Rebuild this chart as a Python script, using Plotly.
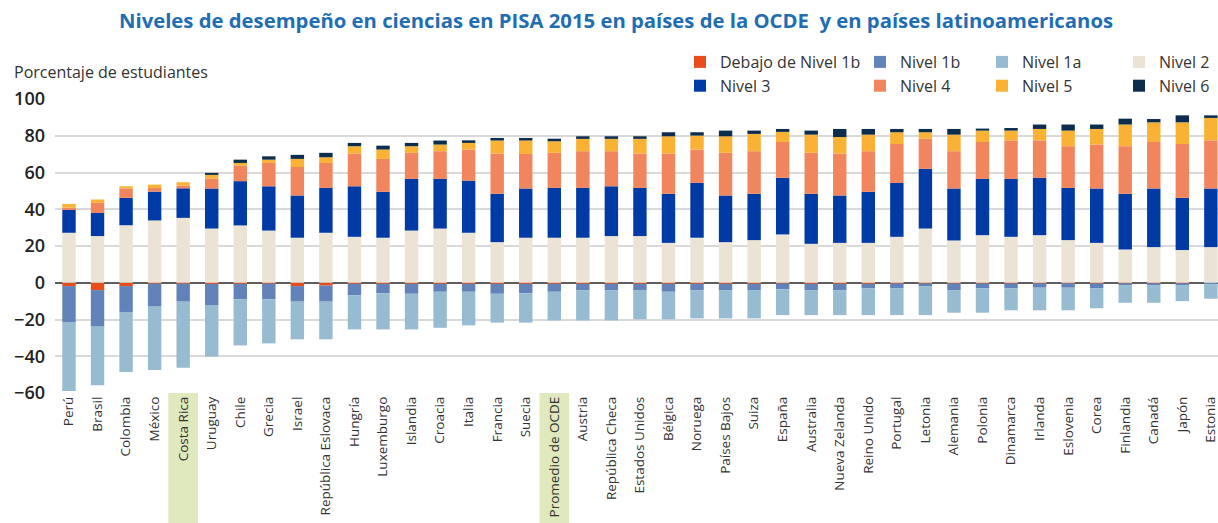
import plotly.graph_objects as go

countries = ["Perú", "Brasil", "Colombia", "México", "Costa Rica", "Uruguay", "Chile", "Grecia",
             "Israel", "República Eslovaca", "Hungría", "Luxemburgo", "Islandia", "Croacia", "Italia",
             "Francia", "Suecia", "Promedio de OCDE", "Austria", "República Checa", "Estados Unidos",
             "Bélgica", "Noruega", "Países Bajos", "Suiza", "España", "Australia", "Nueva Zelanda",
             "Reino Unido", "Portugal", "Letonia", "Alemania", "Polonia", "Dinamarca", "Irlanda",
             "Eslovenia", "Corea", "Finlandia", "Canadá", "Japón", "Estonia"]

# Percentages of students (levels below 2 are drawn below zero)
debajo_1b = [1.8, 4.0, 1.8, 0.4, 0.4, 0.6, 0.5, 0.4, 1.8, 1.5, 0.5, 0.5, 0.5, 0.5, 0.5, 0.5, 0.5,
             0.5, 0.5, 0.5, 0.5, 0.5, 0.5, 0.5, 0.5, 0.3, 0.5, 0.5, 0.5, 0.3, 0.3, 0.3, 0.3, 0.3,
             0.2, 0.2, 0.3, 0.2, 0.2, 0.2, 0.1]
nivel_1b = [19.6, 19.9, 14.1, 12.6, 9.9, 11.5, 8.6, 8.7, 8.5, 8.8, 6.4, 5.3, 5.5, 4.4, 4.4, 5.5, 5.3,
            4.4, 3.5, 3.5, 3.5, 4.4, 3.5, 3.5, 3.5, 3.3, 3.5, 3.5, 2.6, 2.8, 1.5, 3.7, 2.8, 2.8,
            2.5, 2.5, 2.8, 1.1, 1.1, 1.1, 0.8]
nivel_1a = [37.5, 31.9, 32.7, 34.5, 35.9, 28.1, 25.0, 23.9, 20.5, 20.5, 18.5, 19.6, 19.4, 19.6, 18.3,
            15.7, 15.9, 15.6, 16.5, 16.5, 15.9, 15.0, 15.4, 15.4, 15.4, 14.0, 13.6, 13.6, 14.5, 14.5,
            15.8, 12.3, 13.2, 11.9, 12.3, 12.3, 10.8, 9.6, 9.6, 8.7, 7.8]
nivel_2 = [27.2, 25.4, 31.3, 33.9, 35.3, 29.5, 31.2, 28.4, 24.5, 27.2, 25.0, 24.5, 28.4, 29.5, 27.2,
           22.1, 24.5, 24.5, 24.5, 25.4, 25.4, 21.7, 24.5, 22.1, 23.2, 26.3, 21.2, 21.7, 21.7, 25.0,
           29.5, 23.0, 25.9, 25.0, 25.9, 23.2, 21.7, 18.1, 19.4, 17.8, 19.4]
nivel_3 = [12.7, 12.6, 14.9, 15.7, 16.1, 21.8, 24.1, 24.1, 23.0, 24.4, 27.5, 25.0, 28.1, 27.0, 28.4,
           26.3, 26.8, 27.1, 27.1, 27.1, 26.2, 26.7, 29.8, 25.4, 25.2, 30.8, 27.2, 25.8, 27.8, 29.3,
           32.5, 28.3, 30.6, 31.5, 31.2, 28.4, 29.6, 30.3, 31.9, 28.4, 31.9]
nivel_4 = [1.0, 5.5, 5.1, 2.0, 1.5, 5.4, 8.5, 12.7, 15.5, 13.6, 17.8, 17.9, 14.2, 15.1, 16.9,
           21.9, 18.8, 19.1, 20.0, 19.1, 18.7, 21.9, 18.2, 23.2, 23.2, 19.5, 22.3, 22.8, 22.1, 21.2,
           16.4, 20.3, 20.1, 21.0, 20.4, 22.7, 23.9, 25.9, 25.3, 29.3, 26.2]
nivel_5 = [2.0, 1.8, 1.2, 1.8, 1.8, 2.0, 1.4, 1.8, 4.4, 3.1, 4.0, 5.1, 3.6, 3.6, 3.6,
           7.1, 7.3, 6.3, 6.7, 6.7, 8.0, 9.4, 7.6, 9.0, 9.4, 5.5, 9.9, 9.0, 9.0, 6.4,
           3.5, 9.0, 6.2, 5.3, 6.2, 8.5, 8.5, 11.8, 10.7, 11.8, 12.2]
nivel_6 = [0.0, 0.0, 0.0, 0.0, 0.0, 1.1, 1.8, 1.8, 2.2, 2.4, 1.8, 2.1, 1.8, 2.2, 1.4,
           1.4, 1.4, 1.4, 1.4, 1.4, 1.4, 2.2, 1.8, 3.1, 1.8, 1.6, 2.2, 4.4, 3.1, 1.8,
           1.8, 3.1, 1.1, 1.4, 2.4, 3.3, 2.4, 3.2, 1.8, 3.8, 1.4]

highlighted = ["Costa Rica", "Promedio de OCDE"]

series = [
    ("Debajo de Nivel 1b", debajo_1b, -1, "#e84e1b", "legend"),
    ("Nivel 1b", nivel_1b, -1, "#6283b9", "legend2"),
    ("Nivel 1a", nivel_1a, -1, "#97bcd1", "legend3"),
    ("Nivel 2", nivel_2, 1, "#ebe4d5", "legend4"),
    ("Nivel 3", nivel_3, 1, "#003aa5", "legend"),
    ("Nivel 4", nivel_4, 1, "#f0855e", "legend2"),
    ("Nivel 5", nivel_5, 1, "#f9b234", "legend3"),
    ("Nivel 6", nivel_6, 1, "#0c2d4b", "legend4"),
]

FONT = "Open Sans"
W, H = 1218, 523
ML, MR, MT, MB = 55, 0, 99, 130
pw = W - ML - MR
ph = H - MT - MB

fig = go.Figure()
for name, vals, sign, color, leg in series:
    fig.add_trace(go.Bar(
        x=countries,
        y=[sign * v for v in vals],
        customdata=vals,
        name=name,
        marker=dict(color=color, line=dict(width=0)),
        legend=leg,
        hovertemplate="%{x}<br>" + name + ": %{customdata:.1f}%<extra></extra>",
    ))

shapes = []
for c in highlighted:
    i = countries.index(c)
    shapes.append(dict(type="rect", xref="x", yref="paper", x0=i - 0.52, x1=i + 0.52,
                       y0=-MB / ph, y1=0, fillcolor="#dfe9bd", line=dict(width=0), layer="below"))

def legend_cfg(px_left):
    return dict(xref="container", yref="container",
                x=px_left / W, xanchor="left", y=1 - 45 / H, yanchor="top",
                orientation="v", bgcolor="rgba(0,0,0,0)",
                font=dict(family=FONT, size=16, color="#333333"),
                tracegroupgap=0, itemclick=False, itemdoubleclick=False)

fig.update_layout(
    width=W, height=H,
    margin=dict(l=ML, r=MR, t=MT, b=MB, autoexpand=False),
    paper_bgcolor="white", plot_bgcolor="white",
    barmode="relative", bargap=0.53,
    font=dict(family=FONT, color="#333333"),
    title=dict(text="<b>Niveles de desempeño en ciencias en PISA 2015 en países de la OCDE  y en países latinoamericanos</b>",
               xref="container", yref="container",
               x=616 / W, xanchor="center", y=1 - 21 / H, yanchor="middle",
               font=dict(family=FONT, size=20.3, color="#1f6db3")),
    legend=legend_cfg(680),
    legend2=legend_cfg(860),
    legend3=legend_cfg(982),
    legend4=legend_cfg(1119),
    xaxis=dict(type="category", range=[-0.49, 40.25], tickangle=-90, showgrid=False, automargin=False,
               tickfont=dict(family=FONT, size=13.5, color="#333333"), ticks="", showline=False),
    yaxis=dict(range=[-60, 100], dtick=20, showgrid=True, gridcolor="#d9d9d9", gridwidth=2, automargin=False,
               zeroline=True, zerolinecolor="#5e5e5e", zerolinewidth=2,
               tickfont=dict(family=FONT, size=18, color="#222222", weight=600), ticklabelstandoff=9),
    shapes=shapes,
    annotations=[dict(text="Porcentaje de estudiantes", xref="paper", yref="paper",
                      x=(12 - ML) / pw, xanchor="left", y=(H - MB - 72) / ph, yanchor="middle",
                      showarrow=False, font=dict(family=FONT, size=16, color="#333333"))],
)

fig.write_html("out.html", config={"displayModeBar": False},
               post_script="document.body.style.margin='0px';document.body.style.padding='0px';")
